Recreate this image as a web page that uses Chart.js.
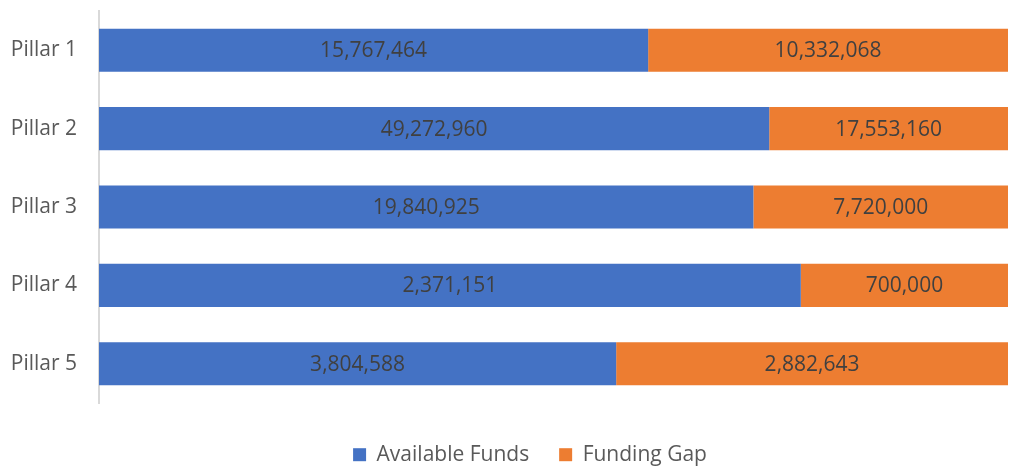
<!DOCTYPE html>
<html>
<head>
<meta charset="utf-8">
<script src="https://cdn.jsdelivr.net/npm/chart.js@4/dist/chart.umd.min.js"></script>
<style>
  html, body { margin: 0; padding: 0; background: #fff; }
  #wrap { width: 1009px; height: 469px; position: relative; }
</style>
</head>
<body>
<div id="wrap"><canvas id="chart"></canvas></div>
<script>
// --- Data ---
const pillars = ['Pillar 1', 'Pillar 2', 'Pillar 3', 'Pillar 4', 'Pillar 5'];
const availableFunds = [15767464, 49272960, 19840925, 2371151, 3804588];
const fundingGap = [10332068, 17553160, 7720000, 700000, 2882643];

const FONT = "'Open Sans', 'Liberation Sans', sans-serif";
const TEXT_SIZE = 21;

// 100% stacked: share of each pillar total
const totals = pillars.map((_, i) => availableFunds[i] + fundingGap[i]);
const share = arr => arr.map((v, i) => v / totals[i] * 100);

// Value labels drawn in the middle of each segment
const segmentLabels = {
    id: 'segmentLabels',
    afterDatasetsDraw(chart) {
        const ctx = chart.ctx;
        ctx.save();
        ctx.font = `${TEXT_SIZE}px ${FONT}`;
        ctx.fillStyle = '#404040';
        ctx.textAlign = 'center';
        ctx.textBaseline = 'middle';
        chart.data.datasets.forEach((ds, di) => {
            const meta = chart.getDatasetMeta(di);
            meta.data.forEach((bar, i) => {
                const cx = (bar.x + bar.base) / 2;
                ctx.fillText(ds.raw[i].toLocaleString('en-US'), cx, bar.y + 1);
            });
        });
        ctx.restore();
    }
};

// Legend sits in a fixed-height strip under the plot, nudged right
const legendStrip = {
    id: 'legendStrip',
    afterInit(chart) {
        const legend = chart.legend;
        const fit = legend.fit.bind(legend);
        legend.fit = function () {
            fit();
            this.height = 66;
        };
    },
    afterLayout(chart) {
        chart.legend.left += 26;
        chart.legend.right += 26;
    }
};

new Chart(document.getElementById('chart'), {
    type: 'bar',
    data: {
        labels: pillars,
        datasets: [
            {
                label: 'Available Funds',
                data: share(availableFunds),
                raw: availableFunds,
                backgroundColor: '#4472C4',
                categoryPercentage: 0.55,
                barPercentage: 1
            },
            {
                label: 'Funding Gap',
                data: share(fundingGap),
                raw: fundingGap,
                backgroundColor: '#ED7D31',
                categoryPercentage: 0.55,
                barPercentage: 1
            }
        ]
    },
    options: {
        indexAxis: 'y',
        responsive: true,
        maintainAspectRatio: false,
        animation: false,
        layout: { padding: { top: 11, right: 1, bottom: 0, left: 0 } },
        scales: {
            x: {
                stacked: true,
                min: 0,
                max: 100,
                display: false
            },
            y: {
                stacked: true,
                afterFit: scale => {
                    scale.width = 99;
                    scale.paddingTop = 0;
                    scale.paddingBottom = 0;
                },
                grid: { display: false, drawTicks: false },
                border: { color: '#D9D9D9', width: 2 },
                ticks: {
                    color: '#595959',
                    font: { family: FONT, size: TEXT_SIZE },
                    padding: 22
                }
            }
        },
        plugins: {
            legend: {
                position: 'bottom',
                title: { display: true, text: '', font: { size: 1 }, padding: { top: 10, bottom: 0 } },
                labels: {
                    color: '#595959',
                    font: { family: FONT, size: TEXT_SIZE },
                    boxWidth: 13,
                    boxHeight: 13,
                    padding: 30
                }
            },
            tooltip: { enabled: false }
        }
    },
    plugins: [segmentLabels, legendStrip]
});
</script>
</body>
</html>
